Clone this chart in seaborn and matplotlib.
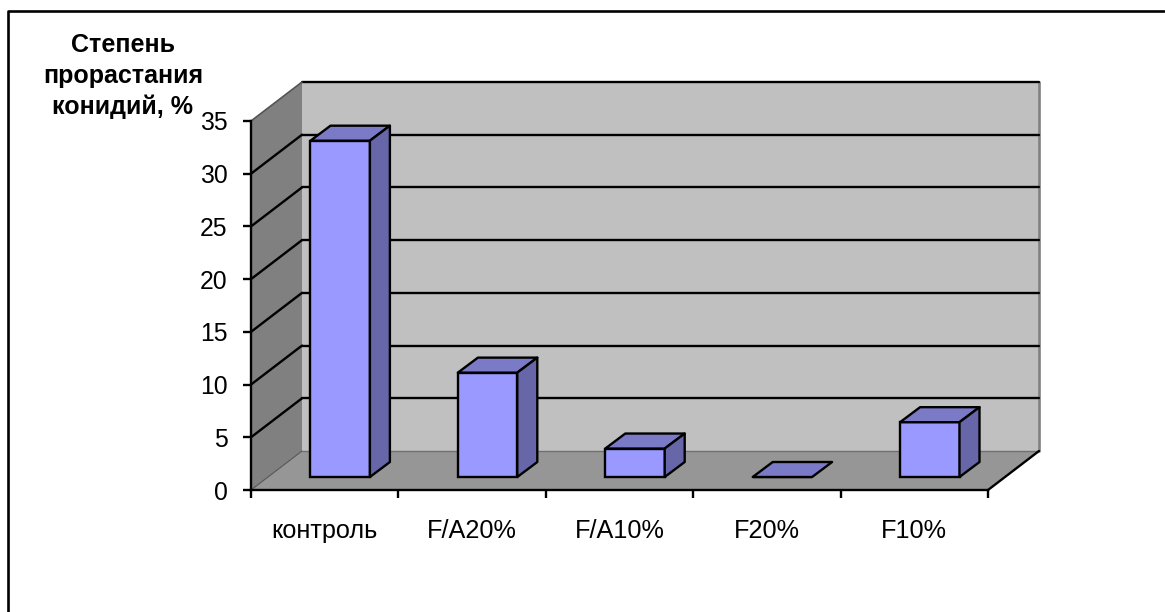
import matplotlib
matplotlib.use("Agg")
import matplotlib.pyplot as plt
from matplotlib.patches import Polygon
from matplotlib.transforms import Affine2D
from matplotlib.lines import Line2D
import pandas as pd
import seaborn as sns

categories = ["контроль", "F/A20%", "F/A10%", "F20%", "F10%"]
germination = [31.9, 9.9, 2.7, 0, 5.2]
y_ticks = [0, 5, 10, 15, 20, 25, 30, 35]
y_title = "Степень\nпрорастания\nконидий, %"

W, H = 1165, 612
WALL = "#C0C0C0"
SIDE_WALL = "#808080"
FLOOR = "#969696"
BAR_FRONT = "#9999FF"
BAR_TOP = "#7A7AC6"
BAR_SIDE = "#6666A8"
LW = 1.7

sns.set_theme(style="white")
plt.rcParams["font.family"] = ["Liberation Sans", "DejaVu Sans"]

fig = plt.figure(figsize=(W / 100, H / 100), dpi=100, facecolor="white")
# Front plane of the pseudo-3D box, given in figure pixels
ax = fig.add_axes([251 / W, 1 - 490 / H, 737 / W, 369 / H])
ax.set_facecolor("none")

data = pd.DataFrame({"group": categories, "value": germination})
sns.barplot(data=data, x="group", y="value", color=BAR_FRONT, saturation=1,
            width=0.403, edgecolor="black", linewidth=LW, ax=ax, zorder=5)
ax.set_xlim(-0.5, len(categories) - 0.5)
ax.set_ylim(y_ticks[0], y_ticks[-1])


def shifted(dx, dy):
    """Data transform moved by a pixel offset into the box depth."""
    return ax.transData + Affine2D().translate(dx, dy)


BOX_DX, BOX_DY = 51, 39
BAR_DX, BAR_DY = 15.5, 13
BAR_DEPTH_X, BAR_DEPTH_Y = 20, 15

x0, x1 = ax.get_xlim()
y0, y1 = ax.get_ylim()
back = shifted(BOX_DX, BOX_DY)
front = ax.transData

disp = lambda pts, tr: tr.transform(pts)


def add_poly(points, color, z, edge="none", lw=0):
    ax.add_patch(Polygon(points, closed=True, facecolor=color, edgecolor=edge, linewidth=lw,
                         transform=None, zorder=z, clip_on=False, joinstyle="round"))
    ax.patches[-1].set_transform(Affine2D())


# Walls and floor
add_poly(disp([(x0, y0), (x1, y0), (x1, y1), (x0, y1)], back), WALL, 1)
add_poly(list(disp([(x0, y0), (x0, y1)], front)) + list(disp([(x0, y1), (x0, y0)], back)), SIDE_WALL, 1)
add_poly(list(disp([(x0, y0), (x1, y0)], front)) + list(disp([(x1, y0), (x0, y0)], back)), FLOOR, 1)


def add_line(p, q, color="black", lw=LW, z=2):
    ax.add_line(Line2D([p[0], q[0]], [p[1], q[1]], color=color, linewidth=lw,
                       transform=Affine2D(), zorder=z, clip_on=False,
                       solid_capstyle="round"))


# Edges of the empty box
add_line(front.transform((x0, y0)), back.transform((x0, y0)), color="#555555", lw=0.8)
add_line(back.transform((x0, y0)), back.transform((x1, y0)), color="#707070", lw=1)
add_line(back.transform((x1, y0)), back.transform((x1, y1)), color="#808080", lw=1.9)
add_line(front.transform((x1, y0)), back.transform((x1, y0)))

# Gridlines wrap from the side wall onto the back wall
for t in y_ticks[1:]:
    f = front.transform((x0, t))
    b = back.transform((x0, t))
    e = back.transform((x1, t))
    add_line(b, e)
    if t == y_ticks[-1]:
        add_line(f, b, color="#555555", lw=1.2)
    else:
        add_line(f, b)

# Extrude each seaborn bar: move it into the box, then add its top and side faces
for bar, value in zip(list(ax.containers[0]), germination):
    left, w = bar.get_x(), bar.get_width()
    tr = shifted(BAR_DX, BAR_DY)
    bar.set_transform(tr)
    bar.set_clip_on(False)
    a = tr.transform((left, 0))
    b = tr.transform((left + w, 0))
    c = tr.transform((left + w, value))
    d = tr.transform((left, value))
    dxy = (BAR_DEPTH_X, BAR_DEPTH_Y)
    add_poly([c, c + dxy, d + dxy, d], BAR_TOP, 5, edge="black", lw=LW)
    if value > 0:
        add_poly([b, b + dxy, c + dxy, c], BAR_SIDE, 5, edge="black", lw=LW)

# Axes furniture
sns.despine(ax=ax, top=True, right=True)
for side in ("left", "bottom"):
    ax.spines[side].set_color("black")
    ax.spines[side].set_linewidth(LW)
    ax.spines[side].set_zorder(6)

ax.set_yticks(y_ticks)
ax.tick_params(axis="y", which="major", left=True, length=6, width=LW, color="black",
               labelsize=17.8, pad=11, labelcolor="black")
ax.set_xticks(range(len(categories)), categories)
ax.tick_params(axis="x", which="major", bottom=False, length=0, labelsize=18.2, pad=21, labelcolor="black")
ax.set_xticks([i - 0.5 for i in range(len(categories) + 1)], minor=True)
ax.tick_params(axis="x", which="minor", bottom=True, length=6, width=LW, color="black")
ax.set_xlabel("")
ax.set_ylabel("")

fig.text(123 / W, 1 - 76 / H, y_title, ha="center", va="center", fontsize=18,
         fontweight="bold", color="black", linespacing=1.34)

# Outer chart frame
fig.add_artist(Line2D([8 / W, 8 / W, 1 - 1 / W], [0, 1 - 11 / H, 1 - 11 / H], color="black", linewidth=1.9))

fig.savefig("out.png", dpi=100, facecolor="white")
